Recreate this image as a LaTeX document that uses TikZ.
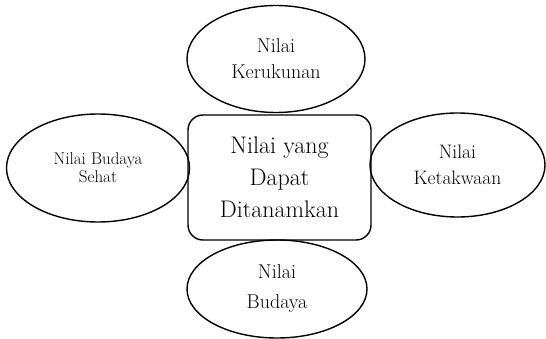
\documentclass[tikz,border=0pt]{standalone}
\usepackage{tikz}
\usetikzlibrary{shapes.geometric, positioning}

\tikzset{
  nilai/.style={draw, ellipse, line width=1.4pt, inner sep=0pt, align=center},
  pusatbox/.style={draw, rectangle, rounded corners=15pt, line width=1.4pt, inner sep=0pt, align=center}
}

\begin{document}
\begin{tikzpicture}[x=1pt, y=-1pt]
\useasboundingbox (0,0) rectangle (546,339);
\node[pusatbox, minimum width=183pt, minimum height=125pt,
  font=\fontsize{24pt}{32pt}\selectfont] (pusat) at (279.5,177.5) {Nilai yang\\Dapat\\Ditanamkan};
\node[nilai, minimum width=178pt, minimum height=107pt,
  font=\fontsize{20pt}{26pt}\selectfont] (kerukunan) at (276,59) {Nilai\\Kerukunan};
\node[nilai, minimum width=183pt, minimum height=108pt,
  font=\fontsize{17pt}{18pt}\selectfont] (budayasehat) at (98,168) {Nilai Budaya\\Sehat};
\node[nilai, minimum width=175pt, minimum height=104pt,
  font=\fontsize{19.5pt}{26pt}\selectfont] (ketakwaan) at (457.5,165) {Nilai\\Ketakwaan};
\node[nilai, minimum width=180pt, minimum height=98pt,
  font=\fontsize{20pt}{30pt}\selectfont] (budaya) at (277,289) {Nilai\\Budaya};
\end{tikzpicture}
\end{document}
